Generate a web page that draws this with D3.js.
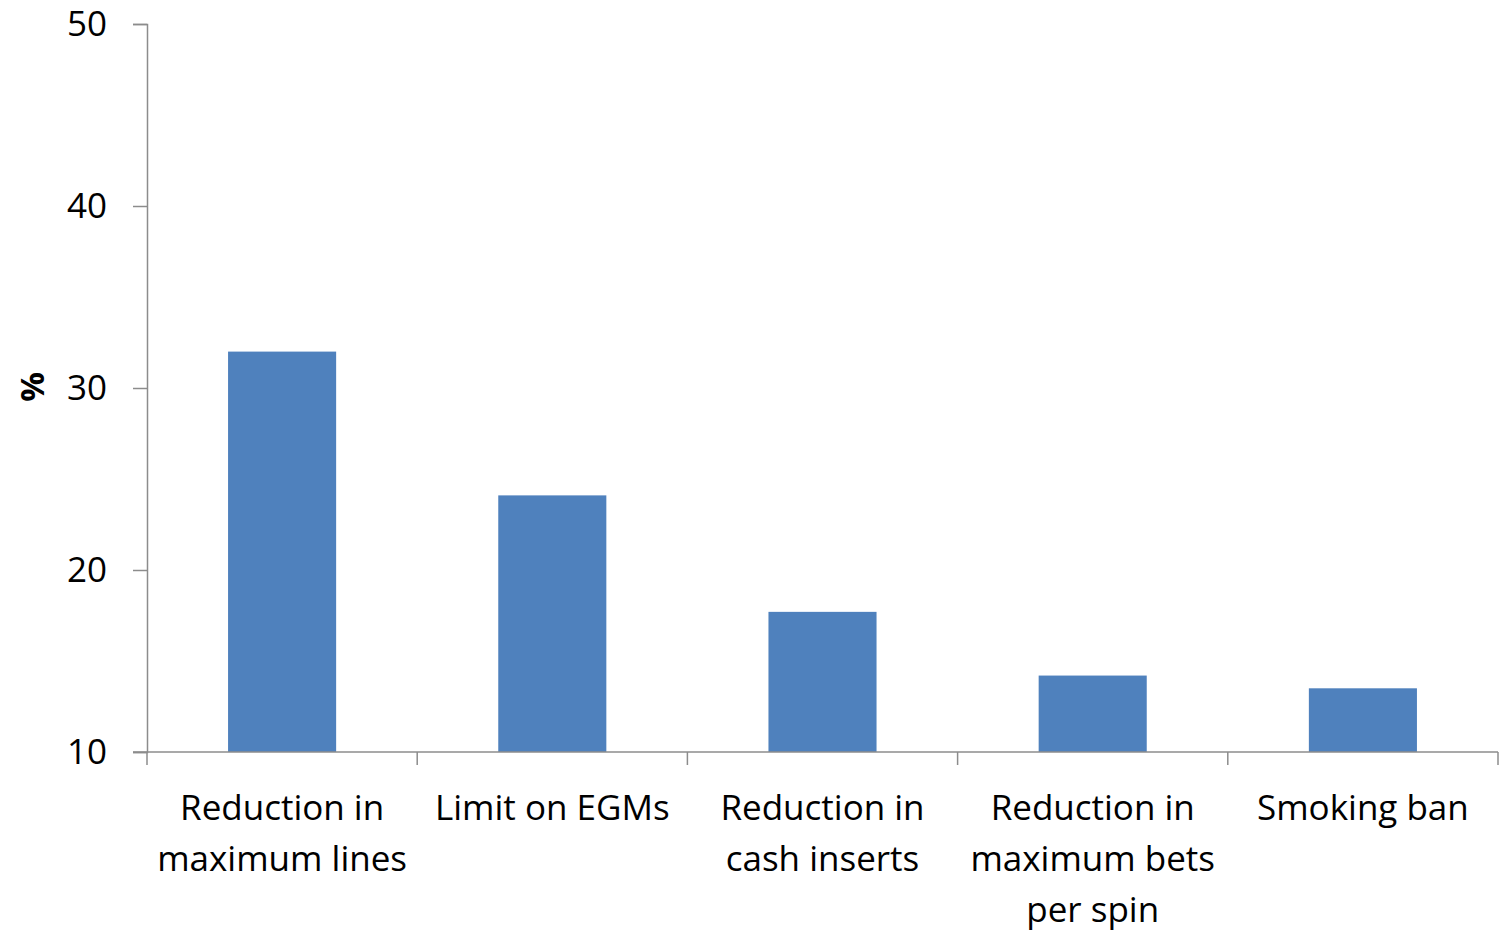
<!DOCTYPE html>
<html>
<head>
<meta charset="utf-8">
<script src="https://cdn.jsdelivr.net/npm/d3@7"></script>
<style>
  html, body { margin: 0; padding: 0; background: #fff; }
  svg { display: block; }
  text { font-family: "Open Sans", Lato, sans-serif; fill: #000; }
</style>
</head>
<body>
<svg id="chart" width="1499" height="932"></svg>
<script>
// Share of respondents citing each measure (%)
const categories = [
  ["Reduction in", "maximum lines"],
  ["Limit on EGMs"],
  ["Reduction in", "cash inserts"],
  ["Reduction in", "maximum bets", "per spin"],
  ["Smoking ban"]
];
const values = [32.0, 24.1, 17.7, 14.2, 13.5];
const yTicks = [10, 20, 30, 40, 50];

const svg = d3.select("#chart");
const margin = { left: 147, right: 1498, top: 24, bottom: 752 };
const fontFamily = "'Open Sans', Lato, sans-serif";

const x = d3.scaleBand()
  .domain(d3.range(categories.length))
  .range([margin.left, margin.right])
  .paddingInner(0.6)
  .paddingOuter(0.3);

const y = d3.scaleLinear()
  .domain([10, 50])
  .range([margin.bottom, margin.top]);

const axisColor = "#8c8c8c";

// bars
svg.append("g")
  .selectAll("rect")
  .data(values)
  .join("rect")
  .attr("x", (d, i) => x(i))
  .attr("width", x.bandwidth())
  .attr("y", d => y(d))
  .attr("height", d => y(10) - y(d))
  .attr("fill", "#4f81bd");

// y axis
const yAxis = svg.append("g")
  .attr("transform", `translate(${margin.left},0)`)
  .call(d3.axisLeft(y).tickValues(yTicks).tickSize(14).tickPadding(26).tickFormat(d3.format("d")));
yAxis.select(".domain").attr("stroke", axisColor).attr("stroke-width", 1.5);
yAxis.selectAll(".tick line").attr("stroke", axisColor).attr("stroke-width", 1.5);
yAxis.selectAll(".tick text")
  .attr("font-size", 35)
  .attr("font-family", fontFamily)
  .attr("fill", "#000");

// x axis: boundaries between categories carry the ticks
const step = x.step();
const bounds = d3.range(categories.length + 1).map(i => margin.left + i * step);
const xAxis = svg.append("g");
xAxis.append("line")
  .attr("x1", margin.left - 14).attr("x2", margin.right)
  .attr("y1", y(10)).attr("y2", y(10))
  .attr("stroke", axisColor).attr("stroke-width", 1.5);
xAxis.selectAll("line.tick")
  .data(bounds)
  .join("line")
  .attr("class", "tick")
  .attr("x1", d => d).attr("x2", d => d)
  .attr("y1", y(10)).attr("y2", y(10) + 13)
  .attr("stroke", axisColor).attr("stroke-width", 1.5);

// category labels
const labels = svg.append("g")
  .selectAll("text")
  .data(categories)
  .join("text")
  .attr("text-anchor", "middle")
  .attr("font-size", 35)
  .attr("x", (d, i) => x(i) + x.bandwidth() / 2);
labels.selectAll("tspan")
  .data(d => d)
  .join("tspan")
  .attr("x", function () { return d3.select(this.parentNode).attr("x"); })
  .attr("y", (d, j) => 820 + j * 51)
  .text(d => d);

// y axis title
svg.append("text")
  .attr("transform", "translate(44, 387) rotate(-90)")
  .attr("text-anchor", "middle")
  .attr("font-size", 33)
  .attr("font-weight", "bold")
  .text("%");
</script>
</body>
</html>
